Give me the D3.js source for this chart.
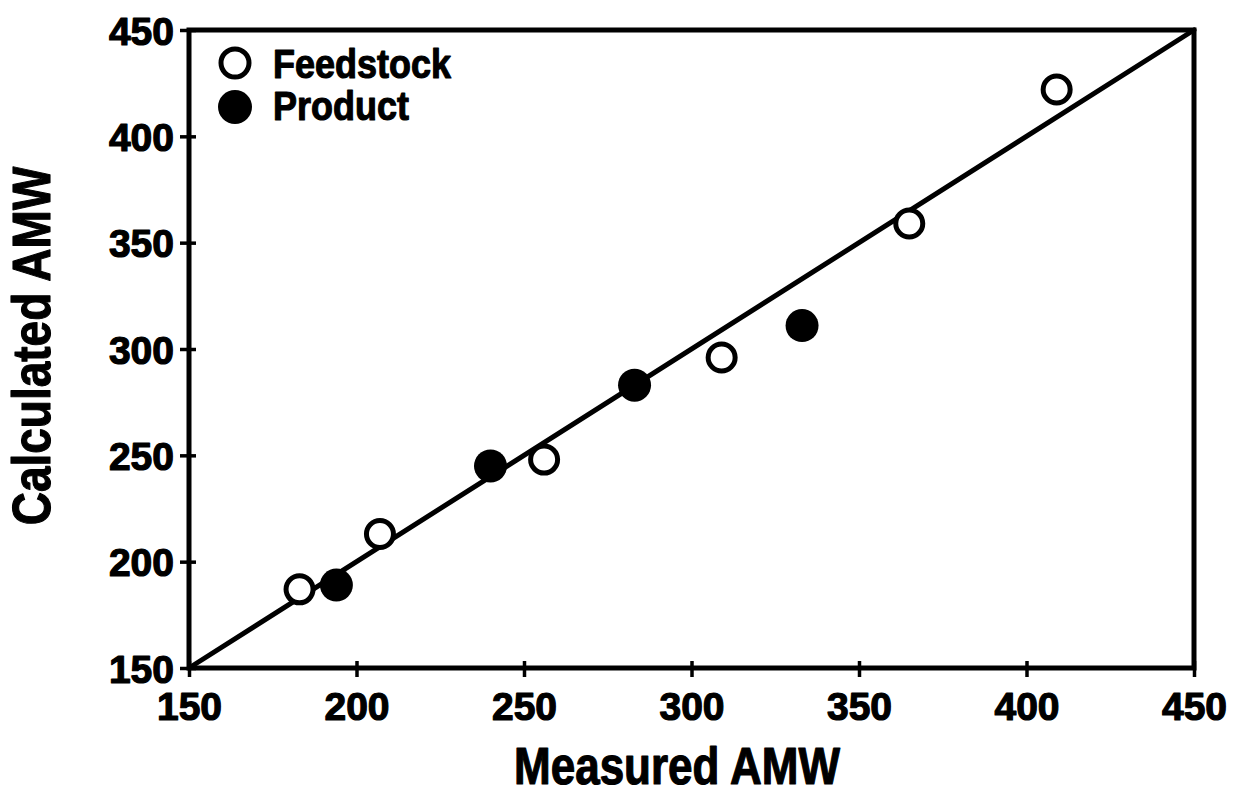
<!DOCTYPE html>
<html>
<head>
<meta charset="utf-8">
<script src="https://cdn.jsdelivr.net/npm/d3@7"></script>
<style>
  html, body { margin: 0; padding: 0; background: #fff; }
  svg { display: block; }
  text { font-family: "Liberation Sans", Arial, sans-serif; font-weight: bold; fill: #000; }
</style>
</head>
<body>
<svg id="chart" width="1235" height="795"></svg>
<script>
// Measured vs calculated average molecular weight
const feedstockMeasured = [183, 207, 256, 309, 365, 409];
const feedstockCalculated = [187, 213, 248, 296, 359, 422];
const productMeasured = [194, 240, 283, 333];
const productCalculated = [189, 245, 283, 311];
const tickValues = [150, 200, 250, 300, 350, 400, 450];
const parityLine = [150, 450];
const legendLabels = ["Feedstock", "Product"];

const svg = d3.select("#chart");
const plotLeft = 189, plotRight = 1194, plotTop = 30, plotBottom = 668;

const x = d3.scaleLinear().domain([150, 450]).range([plotLeft, plotRight]);
const y = d3.scaleLinear().domain([150, 450]).range([plotBottom, plotTop]);

// Frame
svg.append("rect")
  .attr("x", plotLeft).attr("y", plotTop)
  .attr("width", plotRight - plotLeft).attr("height", plotBottom - plotTop)
  .attr("fill", "none").attr("stroke", "#000").attr("stroke-width", 5);

// Axes: ticks straddle the frame line
const xAxis = d3.axisBottom(x).tickValues(tickValues).tickSize(0).tickFormat(d3.format("d"));
const yAxis = d3.axisLeft(y).tickValues(tickValues).tickSize(0).tickFormat(d3.format("d"));

const gx = svg.append("g").attr("transform", `translate(0,${plotBottom})`).call(xAxis);
gx.select(".domain").remove();
gx.selectAll(".tick line")
  .attr("y1", -7).attr("y2", 9)
  .attr("stroke", "#000").attr("stroke-width", 3.5);
gx.selectAll(".tick text")
  .attr("y", 52).attr("dy", null)
  .attr("font-size", 39).attr("text-anchor", "middle")
  .attr("stroke", "#000").attr("stroke-width", 1.2).attr("stroke-linejoin", "round");

const gy = svg.append("g").attr("transform", `translate(${plotLeft},0)`).call(yAxis);
gy.select(".domain").remove();
gy.selectAll(".tick line")
  .attr("x1", -9).attr("x2", 7)
  .attr("stroke", "#000").attr("stroke-width", 3.5);
gy.selectAll(".tick text")
  .attr("x", -15).attr("dy", "0.36em")
  .attr("font-size", 39).attr("text-anchor", "end")
  .attr("stroke", "#000").attr("stroke-width", 1.2).attr("stroke-linejoin", "round");

// Axis titles
svg.append("text")
  .attr("transform", "translate(677,784) scale(1,1.18)")
  .attr("text-anchor", "middle").attr("font-size", 44)
  .attr("stroke", "#000").attr("stroke-width", 1).attr("stroke-linejoin", "round")
  .text("Measured AMW");

svg.append("text")
  .attr("transform", "translate(50,346) rotate(-90) scale(1,1.15)")
  .attr("text-anchor", "middle").attr("font-size", 46)
  .attr("stroke", "#000").attr("stroke-width", 1).attr("stroke-linejoin", "round")
  .text("Calculated AMW");

// 1:1 parity line
svg.append("line")
  .attr("x1", x(parityLine[0])).attr("y1", y(parityLine[0]))
  .attr("x2", x(parityLine[1])).attr("y2", y(parityLine[1]))
  .attr("stroke", "#000").attr("stroke-width", 5).attr("stroke-linecap", "round");

// Feedstock: open circles
svg.append("g").selectAll("circle")
  .data(feedstockMeasured.map((m, i) => [m, feedstockCalculated[i]]))
  .join("circle")
  .attr("cx", d => x(d[0])).attr("cy", d => y(d[1]))
  .attr("r", 13.5)
  .attr("fill", "#fff").attr("stroke", "#000").attr("stroke-width", 5);

// Product: filled circles
svg.append("g").selectAll("circle")
  .data(productMeasured.map((m, i) => [m, productCalculated[i]]))
  .join("circle")
  .attr("cx", d => x(d[0])).attr("cy", d => y(d[1]))
  .attr("r", 16.5)
  .attr("fill", "#000");

// Legend
const legend = svg.append("g");
legend.append("circle").attr("cx", 235).attr("cy", 63).attr("r", 14)
  .attr("fill", "#fff").attr("stroke", "#000").attr("stroke-width", 5);
legend.append("circle").attr("cx", 235).attr("cy", 107).attr("r", 17)
  .attr("fill", "#000");
legend.selectAll("text.lbl")
  .data(legendLabels)
  .join("text")
  .attr("class", "lbl")
  .attr("transform", (d, i) => `translate(273,${78 + i * 42}) scale(1,1.15)`)
  .attr("font-size", 36)
  .attr("stroke", "#000").attr("stroke-width", 1).attr("stroke-linejoin", "round")
  .text(d => d);
</script>
</body>
</html>
